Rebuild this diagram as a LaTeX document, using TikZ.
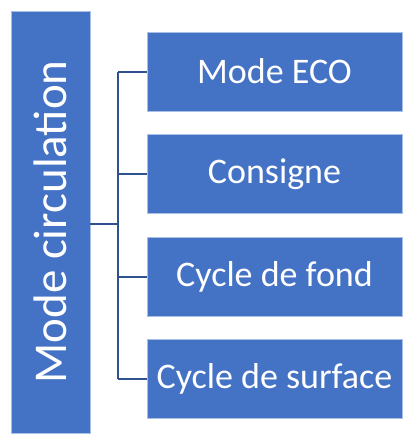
\documentclass[tikz,border=0pt]{standalone}
\usepackage{xcolor}
\usepackage{fontspec}
\setmainfont{Carlito}
\usepackage{tikz}
\usetikzlibrary{positioning}

\definecolor{modeblue}{HTML}{4472C4}
\definecolor{linkblue}{HTML}{2F528F}
\definecolor{edgeblue}{HTML}{A9BFE6}

\begin{document}
\begin{tikzpicture}[x=1pt,y=-1pt,
    mainbox/.style={draw=edgeblue, fill=modeblue, text=white, inner sep=0pt, rotate=90,
        minimum width=422pt, minimum height=79pt, font=\fontsize{47}{52}\selectfont},
    modebox/.style={draw=edgeblue, fill=modeblue, text=white, inner sep=0pt,
        minimum width=255pt, minimum height=79pt, font=\fontsize{36}{40}\selectfont},
    link/.style={draw=linkblue, line width=2pt}]
    \useasboundingbox (0,0) rectangle (404,434);

    \node[mainbox] (circ) at (50.5,222) {Mode circulation};

    \node[modebox] (eco) at (274.5,71.5) {Mode ECO};
    \node[modebox] (cons) at (274.5,174) {Consigne};
    \node[modebox] (fond) at (274.5,276.5) {Cycle de fond};
    \node[modebox] (surf) at (274.5,378.5) {Cycle de surface};

    \coordinate (spine) at (118,224);

    \draw[link] (circ.south |- spine) -- (spine);
    \draw[link] (spine |- eco.west) -- (spine |- surf.west);
    \foreach \b in {eco,cons,fond,surf}
        \draw[link] (spine |- \b.west) -- (\b.west);
\end{tikzpicture}
\end{document}
